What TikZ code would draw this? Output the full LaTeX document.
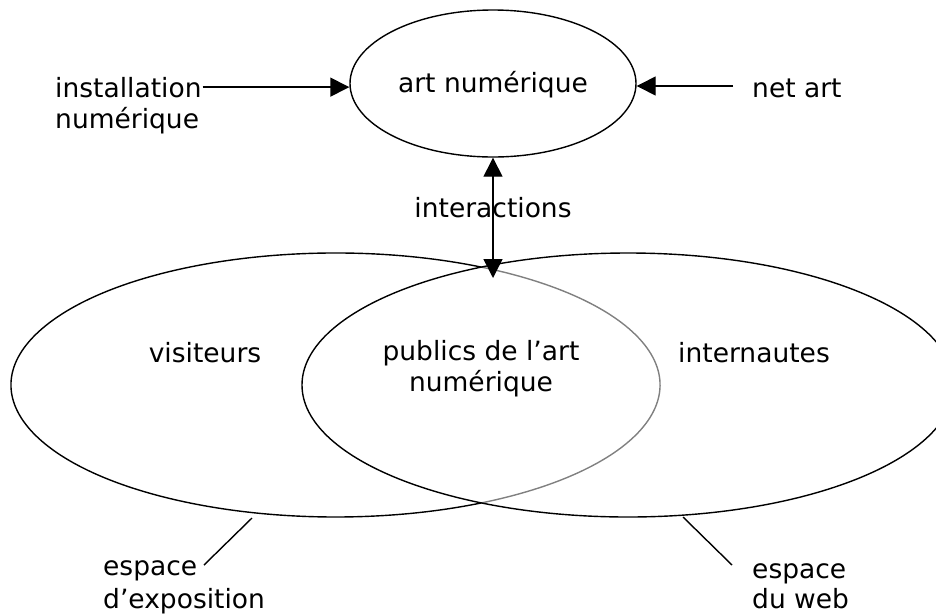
\documentclass[tikz,border=0pt]{standalone}
\usepackage{fontspec}
\setmainfont{DejaVu Sans}
\usetikzlibrary{arrows.meta,shapes.geometric}
\begin{document}
\begin{tikzpicture}[x=1pt,y=-1pt,
  lbl/.style={inner sep=0pt,font=\fontsize{26.5}{32}\selectfont},
  ln/.style={line width=1.4pt},
  arr/.style={ln,-{Triangle[length=19pt,width=19pt]}},
  darr/.style={ln,{Triangle[length=19pt,width=19pt]}-{Triangle[length=19pt,width=19pt]}}]
\useasboundingbox (0,0) rectangle (936,614);
\clip (0,0) rectangle (936,614);
% top ellipse
\node[ellipse,draw,ln,minimum width=286pt,minimum height=147pt,inner sep=0pt] (artn) at (493,83.5) {};
\node[lbl,anchor=base] (artnt) at (493,92) {art numérique};
% side labels
\node[lbl,anchor=base west] (inst1) at (55,97) {installation};
\node[lbl,anchor=base west] (inst2) at (55,128) {numérique};
\node[lbl,anchor=base west] (netart) at (752,97) {net art};
\draw[arr] (inst1.east) ++(1pt,0) coordinate (instE) -- (instE -| artn.west);
\coordinate (netS) at (733,86);
\draw[arr] (netS) -- (netS -| artn.east);
% big ellipses
\draw[ln] (335.5,385) ++(63.3:324.5pt and 132pt) arc[start angle=63.3,end angle=296.7,x radius=324.5pt,y radius=132pt];
\draw[ln,color=black!50] (335.5,385) ++(-63.3:324.5pt and 132pt) arc[start angle=-63.3,end angle=63.3,x radius=324.5pt,y radius=132pt];
\draw[ln] (628,385) ellipse[x radius=326pt,y radius=132pt];
% interactions
\node[lbl,anchor=base] (inter) at (493,217) {interactions};
\coordinate (meet) at (493,278);
\draw[darr] (artn.south) -- (meet);
% inner labels
\node[lbl,anchor=base] (vis) at (205,362) {visiteurs};
\node[lbl,anchor=base] (pub1) at (481,360) {publics de l’art};
\node[lbl,anchor=base] (pub2) at (481,391) {numérique};
\node[lbl,anchor=base] (intern) at (754,362) {internautes};
% bottom labels
\node[lbl,anchor=base west] (exp1) at (103,575) {espace};
\node[lbl,anchor=base west] (exp2) at (103,608) {d’exposition};
\node[lbl,anchor=base west] (web1) at (752,578) {espace};
\node[lbl,anchor=base west] (web2) at (752,608) {du web};
\coordinate (expA) at (252,518);
\coordinate (expB) at (204,565);
\coordinate (webA) at (683,517);
\coordinate (webB) at (732,565);
\draw[ln] (expA) -- (expB);
\draw[ln] (webA) -- (webB);
\end{tikzpicture}
\end{document}
